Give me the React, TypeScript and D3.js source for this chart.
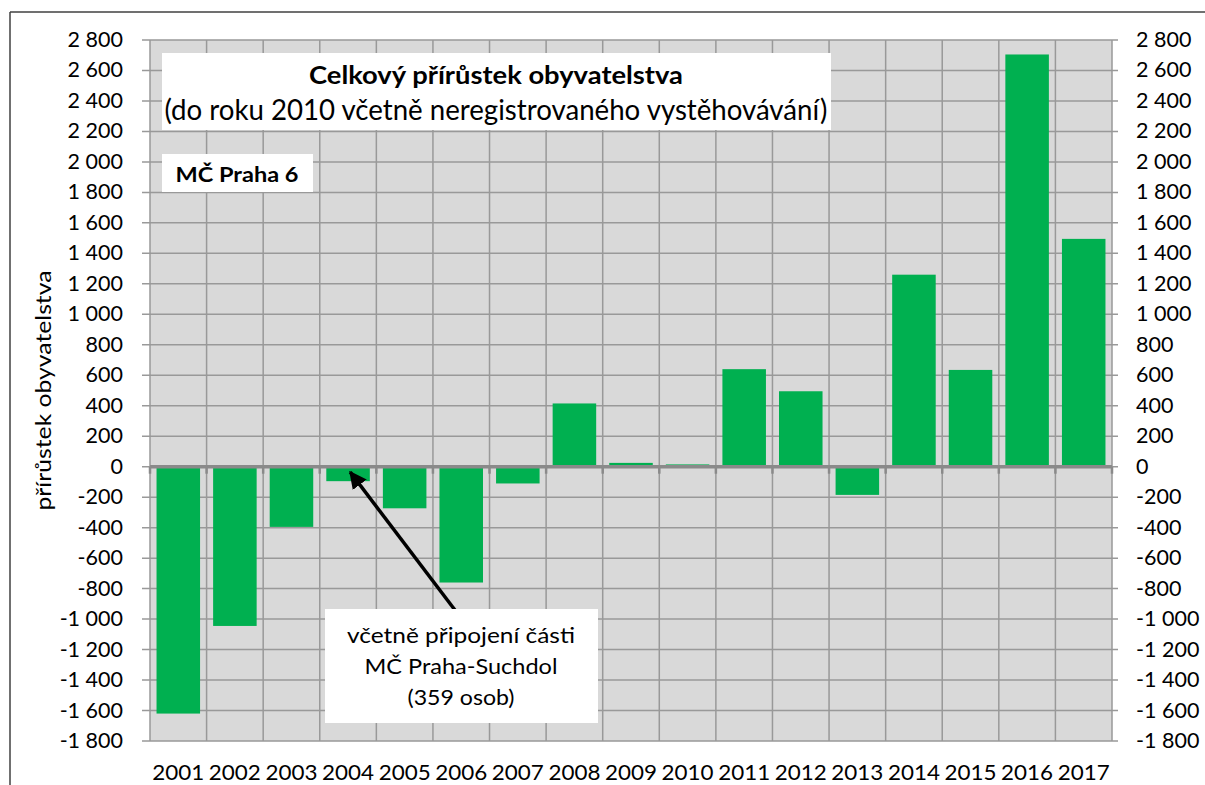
import React from "react";
import * as d3 from "d3";

const years = ["2001","2002","2003","2004","2005","2006","2007","2008","2009","2010","2011","2012","2013","2014","2015","2016","2017"];
const growth = [-1620, -1045, -395, -95, -273, -760, -110, 415, 25, 15, 640, 495, -185, 1260, 635, 2705, 1495];
const yTicks = [-1800,-1600,-1400,-1200,-1000,-800,-600,-400,-200,0,200,400,600,800,1000,1200,1400,1600,1800,2000,2200,2400,2600,2800];
const titleLine1 = "Celkový přírůstek obyvatelstva";
const titleLine2 = "(do roku 2010 včetně neregistrovaného vystěhovávání)";
const districtLabel = "MČ Praha 6";
const yAxisTitle = "přírůstek obyvatelstva";
const noteLines = ["včetně připojení části", "MČ Praha-Suchdol", "(359 osob)"];
const noteWidths = [228, 193, 107];
const noteYear = "2004";
const noteValue = -95;

const FONT = "Lato, 'Open Sans', sans-serif";

function fmt(v: number): string {
  const s = Math.abs(v).toString();
  const withSpace = s.length > 3 ? s.slice(0, s.length - 3) + " " + s.slice(s.length - 3) : s;
  return (v < 0 ? "-" : "") + withSpace;
}

export default function App() {
  const W = 1205, H = 785;
  const left = 150, right = 1112, top = 40, bottom = 741;
  const x = d3.scaleBand<string>().domain(years).range([left, right]).paddingInner(0.3 / 1.3).paddingOuter(0.15 / 1.3);
  const y = d3.scaleLinear().domain([-1800, 2800]).range([bottom, top]);
  const step = x.step();
  const boundaries = d3.range(years.length + 1).map(i => left + i * step);
  const gridColor = "#999999";

  const tipX = (x(noteYear) as number) + x.bandwidth() * 0.55;
  const tipY = y(noteValue) - 9;

  return (
    <svg width={W} height={H} style={{ position: "absolute", left: 0, top: 0, background: "#fff" }} fontFamily={FONT}>
      <defs>
        <marker id="arrow" viewBox="0 0 10 10" refX="9" refY="5" markerWidth="5" markerHeight="5" orient="auto-start-reverse">
          <path d="M0,0 L10,5 L0,10 z" fill="#000" />
        </marker>
      </defs>
      {/* outer chart border */}
      <line x1={10} y1={12} x2={W} y2={12} stroke="#404040" strokeWidth={1.5} />
      <line x1={10} y1={12} x2={10} y2={H} stroke="#404040" strokeWidth={1.5} />

      {/* plot background */}
      <rect x={left} y={top} width={right - left} height={bottom - top} fill="#d9d9d9" />

      {/* horizontal gridlines + ticks */}
      {yTicks.map(t => (
        <line key={"h" + t} x1={left - 8} x2={right + 6} y1={y(t)} y2={y(t)} stroke={gridColor} strokeWidth={1.5} />
      ))}
      {/* vertical gridlines */}
      {boundaries.map((b, i) => (
        <line key={"v" + i} x1={b} x2={b} y1={top} y2={bottom} stroke={gridColor} strokeWidth={1.5} />
      ))}

      {/* bars */}
      {years.map((yr, i) => {
        const v = growth[i];
        const y0 = y(0), y1 = y(v);
        return (
          <rect key={yr} x={x(yr)} width={x.bandwidth()} y={Math.min(y0, y1)} height={Math.abs(y1 - y0)} fill="#00b050" />
        );
      })}

      {/* zero axis */}
      <line x1={left} x2={right} y1={y(0)} y2={y(0)} stroke="#8a8a8a" strokeWidth={3.5} />
      {boundaries.map((b, i) => (
        <line key={"t" + i} x1={b} x2={b} y1={y(0)} y2={y(0) + 7} stroke="#8a8a8a" strokeWidth={2.5} />
      ))}

      {/* left axis labels */}
      {yTicks.map(t => (
        <text key={"l" + t} x={123} y={y(t) + 7} textAnchor="end" fontSize={21.5} fill="#000">{fmt(t)}</text>
      ))}
      {/* right axis labels */}
      {yTicks.map(t => (
        <text key={"r" + t} x={1136} y={y(t) + 7} textAnchor="start" fontSize={21.5} fill="#000">{fmt(t)}</text>
      ))}

      {/* year labels */}
      {years.map(yr => (
        <text key={"x" + yr} x={(x(yr) as number) + x.bandwidth() / 2} y={780} textAnchor="middle" fontSize={21} fill="#000" textLength={52} lengthAdjust="spacingAndGlyphs">{yr}</text>
      ))}

      {/* y axis title */}
      <text transform={`translate(51, ${(top + bottom) / 2}) rotate(-90)`} textAnchor="middle" fontSize={22} fill="#000" textLength={240} lengthAdjust="spacingAndGlyphs">{yAxisTitle}</text>

      {/* title box */}
      <rect x={162} y={53} width={669} height={77} fill="#fff" />
      <text x={496} y={84} textAnchor="middle" fontSize={25} fontWeight="bold" fill="#000" textLength={374} lengthAdjust="spacingAndGlyphs">{titleLine1}</text>
      <text x={496} y={120} textAnchor="middle" fontSize={29} fill="#000" textLength={663} lengthAdjust="spacingAndGlyphs">{titleLine2}</text>

      {/* district box */}
      <rect x={162} y={154} width={151} height={38} fill="#fff" />
      <text x={237} y={182} textAnchor="middle" fontSize={21} fontWeight="bold" fill="#000" textLength={123} lengthAdjust="spacingAndGlyphs">{districtLabel}</text>

      {/* annotation arrow */}
      <line x1={461} y1={618} x2={tipX} y2={tipY} stroke="#000" strokeWidth={3.5} markerEnd="url(#arrow)" />

      {/* annotation box */}
      <rect x={325} y={609} width={273} height={114} fill="#fff" />
      {noteLines.map((ln, i) => (
        <text key={"n" + i} x={461} y={643 + i * 31} textAnchor="middle" fontSize={21} fill="#000" textLength={noteWidths[i]} lengthAdjust="spacingAndGlyphs">{ln}</text>
      ))}
    </svg>
  );
}
